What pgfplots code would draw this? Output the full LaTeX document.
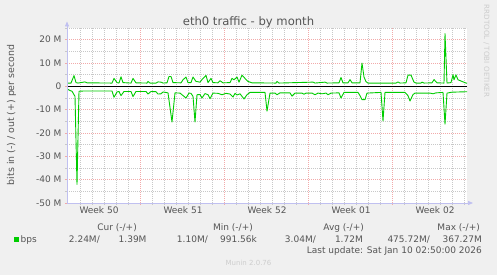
\documentclass[border=0pt]{standalone}
\usepackage{pgfplots}
\pgfplotsset{compat=1.18}
\usepackage{fontspec}
\setmainfont{DejaVu Sans}
\usetikzlibrary{arrows.meta}
\definecolor{bgc}{HTML}{F0F0F0}
\definecolor{tc}{HTML}{555555}
\definecolor{gc}{HTML}{00CC00}
\definecolor{majg}{HTML}{F2AAAA}
\definecolor{ming}{HTML}{C8C8C8}
\definecolor{axc}{HTML}{C0C0F0}
\definecolor{wm}{HTML}{CDCDCD}
\newcommand\fs[1]{\fontsize{#1}{#1}\selectfont}

\pgfplotstableread{
x y
67 1.4
71 1.4
74 4.6
76 1.6
78 1.4
85 1.9
87 1.5
112 1.4
114 3.4
117 1.6
119 1.4
121 4.1
123 1.6
131 1.4
133 3.4
136 1.5
147 1.4
148 2.1
150 1.4
156 1.4
158 1.9
161 1.8
163 1.4
167 1.5
169 4.2
171 4.2
173 1.6
181 1.5
183 2.8
186 4.0
188 1.6
191 1.6
193 4.0
196 2.1
200 1.8
202 2.9
206 4.7
208 1.6
211 3.4
213 1.6
218 1.5
220 2.4
223 1.5
230 1.6
232 3.4
234 2.8
237 4.0
239 1.8
242 4.8
245 3.4
248 2.1
252 1.5
276 1.4
277 2.1
279 1.4
313 1.8
315 1.4
325 1.8
327 1.4
339 1.5
341 3.8
343 1.5
348 1.5
350 2.9
352 1.5
360 1.5
362 10.0
364 4.0
366 2.0
368 1.4
396 1.4
398 1.9
400 1.4
406 1.5
408 4.8
411 4.8
414 1.8
416 1.4
421 1.4
422 1.8
424 1.4
432 1.5
434 2.9
437 1.5
444 1.4
445 22.6
447 1.4
451 1.6
453 5.0
454 2.8
456 4.9
458 2.8
462 2.1
466 1.4
467 1.4
}\outdata

\pgfplotstableread{
x y
67 -1.1
70 -1.8
72 -2.1
75 -4.3
77 -42
79 -2.1
84 -2.0
112 -2.0
114 -4.7
117 -2.4
119 -2.2
121 -4.0
124 -2.2
131 -2.2
133 -4.4
136 -2.2
146 -2.2
148 -3.3
151 -2.2
156 -2.3
158 -3.3
161 -3.2
163 -2.4
168 -2.8
172 -15.3
175 -2.8
180 -2.9
182 -3.6
186 -5.0
189 -2.9
191 -3.0
193 -4.3
195 -15.3
197 -3.6
200 -3.5
202 -5.0
205 -3.1
208 -3.6
210 -5.3
213 -2.9
218 -3.0
222 -3.6
226 -3.0
230 -3.3
233 -4.6
235 -3.0
237 -3.7
240 -3.2
244 -5.4
247 -3.6
250 -2.6
265 -2.6
267 -10.6
270 -2.9
275 -2.9
277 -3.6
280 -2.8
290 -2.8
292 -4.2
295 -2.9
302 -2.9
304 -3.4
306 -2.9
312 -2.9
315 -3.6
318 -2.9
322 -3.2
326 -2.9
328 -3.6
331 -2.9
339 -2.8
341 -5.0
344 -2.6
358 -2.6
360 -4.0
362 -5.7
365 -5.7
367 -2.9
381 -2.6
383 -14.8
385 -2.6
405 -2.6
408 -4.0
410 -6.3
413 -3.5
415 -2.9
430 -2.9
433 -3.2
436 -2.8
443 -2.6
445 -16.2
447 -2.9
452 -2.5
460 -2.4
467 -2.3
}\indata

\begin{document}
\begin{tikzpicture}[x=1pt,y=1pt]
\fill[bgc] (0,0) rectangle (497,275);
\begin{axis}[at={(67pt,72pt)}, anchor=south west, scale only axis,
 width=400pt, height=175pt,
 xmin=67, xmax=467, ymin=-50, ymax=25,
 axis line style={draw=none},
 axis background/.style={fill=white},
 xtick={140,224,308,392}, xticklabels={},
 minor xtick={80,92,...,464},
 extra x ticks={99,183,267,351,435},
 extra x tick labels={Week 50,Week 51,Week 52,Week 01,Week 02},
 extra x tick style={grid=none, major tick length=0pt},
 ytick={-50,-40,...,20},
 yticklabels={-50 M,-40 M,-30 M,-20 M,-10 M,0\hspace{6.5pt},10 M,20 M},
 minor ytick={-45,-35,...,25},
 grid=both,
 major grid style={majg, dash pattern=on 0.8pt off 1.2pt, line width=0.5pt},
 minor grid style={ming, dash pattern=on 0.8pt off 1.2pt, line width=0.55pt},
 tick align=outside, xtick pos=left, ytick pos=left,
 major tick length=2pt, minor tick length=2pt,
 major tick style={majg, line width=0.6pt},
 minor tick style={ming, line width=0.6pt},
 ticklabel style={text=tc, font=\fs{9}},
 /pgf/number format/assume math mode=true,
]
\addplot[gc, line width=0.9pt, line join=round] table[x=x,y=y] {\outdata};
\addplot[gc, line width=0.9pt, line join=round] table[x=x,y=y] {\indata};
\addplot[black, line width=1pt] coordinates {(67,0) (467,0)};
\end{axis}
\draw[axc, line width=0.7pt, -{Triangle[width=4pt,length=5pt]}] (67,72) -- (67,253.5);
\draw[axc, line width=0.7pt, -{Triangle[width=4pt,length=5pt]}] (67,72) -- (473,72);
\node[text=tc, font=\fs{11.6}, anchor=base] at (248.5,249.5) {eth0 traffic - by month};
\node[text=tc, font=\fs{9.4}, rotate=90] at (11.5,160) {bits in (-) / out (+) per second};
\node[text=wm, font=\fs{7.2}, rotate=-90] at (486.5,224) {RRDTOOL / TOBI OETIKER};
\fill[gc] (14,33) rectangle (19,38);
\begin{scope}[every node/.style={text=tc, font=\fs{9}, anchor=base east, inner sep=0pt}]
\node at (137,44.2) {Cur (-/+)};
\node at (253,44.2) {Min (-/+)};
\node at (364,44.2) {Avg (-/+)};
\node at (480,44.2) {Max (-/+)};
\node[anchor=base west] at (20.5,32.5) {bps};
\node at (100,32.5) {2.24M/};
\node at (146.7,32.5) {1.39M};
\node at (208,32.5) {1.10M/};
\node at (257,32.5) {991.56k};
\node at (316,32.5) {3.04M/};
\node at (363,32.5) {1.72M};
\node at (430,32.5) {475.72M/};
\node at (482,32.5) {367.27M};
\node at (482,21.7) {Last update: Sat Jan 10 02:50:00 2026};
\end{scope}
\node[text=wm, font=\fs{7}, anchor=base, inner sep=0pt] at (248.5,9.9) {Munin 2.0.76};
\pgfresetboundingbox
\useasboundingbox (0,0) rectangle (497,275);
\end{tikzpicture}
\end{document}
